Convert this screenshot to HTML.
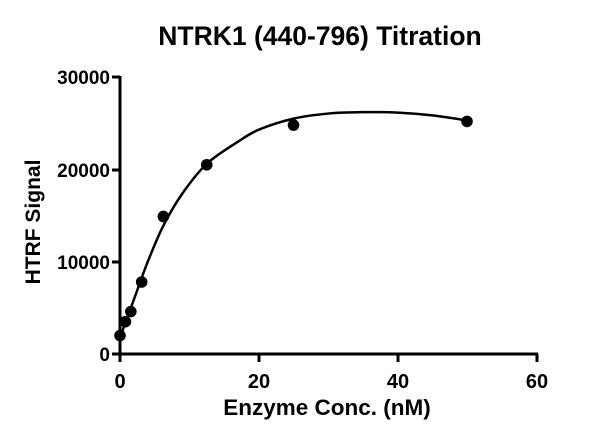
<!DOCTYPE html>
<html><head><style>
body{margin:0;background:#fff;width:600px;height:440px;overflow:hidden}
text{font-family:"Liberation Sans",Arial,sans-serif;font-weight:bold;fill:#000}
</style></head><body>
<svg width="600" height="440" viewBox="0 0 600 440" xmlns="http://www.w3.org/2000/svg">
<text x="320" y="45" font-size="26.5" text-anchor="middle">NTRK1 (440-796) Titration</text>
<g stroke="#000" stroke-width="3" fill="none">
<line x1="120" y1="76" x2="120" y2="355"/>
<line x1="119" y1="354" x2="538" y2="354"/>
<line x1="112" y1="77" x2="120" y2="77"/>
<line x1="112" y1="170" x2="120" y2="170"/>
<line x1="112" y1="262" x2="120" y2="262"/>
<line x1="112" y1="354" x2="120" y2="354"/>
<line x1="120" y1="354" x2="120" y2="362"/>
<line x1="259" y1="354" x2="259" y2="362"/>
<line x1="398" y1="354" x2="398" y2="362"/>
<line x1="537" y1="354" x2="537" y2="362"/>
<path id="c" stroke-width="2.5"/>
</g>
<g font-size="19" text-anchor="end">
<text x="110" y="84">30000</text><text x="110" y="177">20000</text>
<text x="110" y="269">10000</text><text x="110" y="361">0</text>
</g>
<g font-size="20" text-anchor="middle">
<text x="120" y="388">0</text><text x="259" y="388">20</text>
<text x="398" y="388">40</text><text x="537" y="388">60</text>
</g>
<text x="327" y="415" font-size="22.5" text-anchor="middle">Enzyme Conc. (nM)</text>
<text transform="translate(40,222) rotate(-90)" font-size="21" text-anchor="middle">HTRF Signal</text>
<g id="pts" fill="#000"></g>
</svg>
<script>
var X=function(x){return 120+x*6.94},Y=function(y){return 354-y*0.00923};
var pts=[[0,2000],[0.78,3500],[1.56,4600],[3.125,7800],[6.25,14900],[12.5,20500],[25,24800],[50,25200]];
var g=document.getElementById('pts'),s='';
pts.forEach(function(p){s+='<circle cx="'+X(p[0])+'" cy="'+Y(p[1])+'" r="5.8"/>';});
g.innerHTML=s;
var cp=[[0,1800],[2,5900],[4,10000],[6.25,13900],[9,17400],[12.5,20600],[17,23000],[20,24300],[25,25500],[30,26050],[35,26200],[40,26150],[45,25850],[50,25300]];
var d='M'+X(cp[0][0])+','+Y(cp[0][1]);
for(var i=0;i<cp.length-1;i++){
 var p0=cp[Math.max(0,i-1)],p1=cp[i],p2=cp[i+1],p3=cp[Math.min(cp.length-1,i+2)];
 var c1x=X(p1[0])+(X(p2[0])-X(p0[0]))/6,c1y=Y(p1[1])+(Y(p2[1])-Y(p0[1]))/6;
 var c2x=X(p2[0])-(X(p3[0])-X(p1[0]))/6,c2y=Y(p2[1])-(Y(p3[1])-Y(p1[1]))/6;
 d+=' C'+c1x+','+c1y+' '+c2x+','+c2y+' '+X(p2[0])+','+Y(p2[1]);
}
document.getElementById('c').setAttribute('d',d);
</script>
</body></html>
